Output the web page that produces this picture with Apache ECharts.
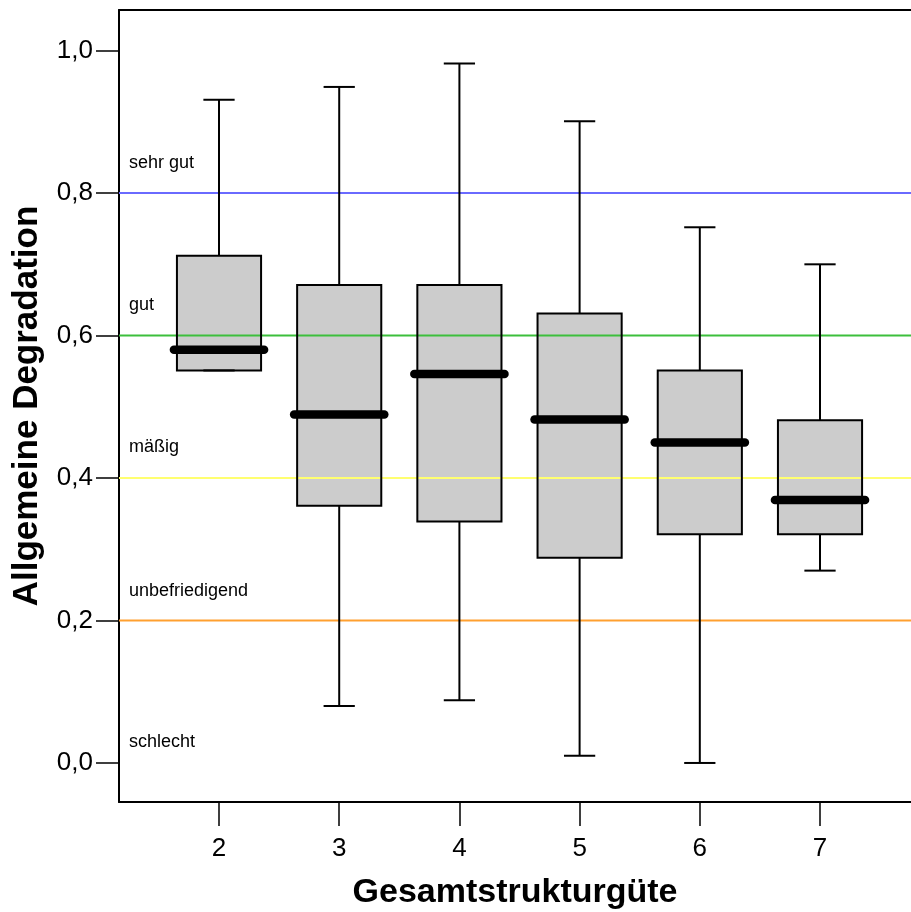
<!DOCTYPE html>
<html>
<head>
<meta charset="utf-8">
<script src="https://cdn.jsdelivr.net/npm/echarts@6/dist/echarts.min.js"></script>
<style>
html,body{margin:0;padding:0;background:#fff;}
#chart{width:911px;height:912px;}
</style>
</head>
<body>
<div id="chart"></div>
<script>
// ---- data ----
const categories = [2, 3, 4, 5, 6, 7];
const lowerWhisker = [0.551, 0.080, 0.088, 0.010, 0.000, 0.270];
const q1Values     = [0.551, 0.361, 0.339, 0.288, 0.321, 0.321];
const medianValues = [0.580, 0.489, 0.546, 0.482, 0.450, 0.369];
const q3Values     = [0.712, 0.671, 0.671, 0.631, 0.551, 0.481];
const upperWhisker = [0.931, 0.949, 0.982, 0.901, 0.752, 0.700];

const gradeLevels = [0.8, 0.6, 0.4, 0.2];
const gradeColors = ['#6a6aff', '#3cbf3c', '#ffff70', '#ffa030'];
const gradeNames  = ['sehr gut', 'gut', 'mäßig', 'unbefriedigend', 'schlecht'];
const gradeLabelY = [0.842, 0.643, 0.443, 0.242, 0.030];

const yTicks = [0, 0.2, 0.4, 0.6, 0.8, 1.0];
const xTicks = [2, 3, 4, 5, 6, 7];

// ---- styling constants ----
const X_MIN = 1.168, X_MAX = 7.757;
const Y_MIN = -0.0548, Y_MAX = 1.057;
const BOX_W = 0.70, CAP_W = 0.26, MED_W = 0.75;
const FONT = '"Liberation Sans", Arial, Helvetica, sans-serif';

const boxData = categories.map((c, i) => [c, lowerWhisker[i], q1Values[i], medianValues[i], q3Values[i], upperWhisker[i]]);
const gradeLineData = gradeLevels.map((v, i) => [v, i]);
const gradeLabelData = gradeNames.map((n, i) => [gradeLabelY[i], n]);

function boxFill(params, api) {
  const x = api.value(0);
  const half = api.size([BOX_W, 0])[0] / 2;
  const pQ1 = api.coord([x, api.value(2)]);
  const pQ3 = api.coord([x, api.value(4)]);
  return {
    type: 'rect',
    shape: {x: pQ1[0] - half, y: pQ3[1], width: half * 2, height: pQ1[1] - pQ3[1]},
    style: {fill: '#cccccc', stroke: null}
  };
}

function boxOutline(params, api) {
  const x = api.value(0);
  const half = api.size([BOX_W, 0])[0] / 2;
  const capHalf = api.size([CAP_W, 0])[0] / 2;
  const medHalf = api.size([MED_W, 0])[0] / 2;
  const pLW = api.coord([x, api.value(1)]);
  const pQ1 = api.coord([x, api.value(2)]);
  const pMed = api.coord([x, api.value(3)]);
  const pQ3 = api.coord([x, api.value(4)]);
  const pUW = api.coord([x, api.value(5)]);
  const cx = pQ1[0];
  const ls = {stroke: '#000', lineWidth: 2, fill: null};
  return {
    type: 'group',
    children: [
      {type: 'line', shape: {x1: cx, y1: pQ3[1], x2: cx, y2: pUW[1]}, style: ls},
      {type: 'line', shape: {x1: cx - capHalf, y1: pUW[1], x2: cx + capHalf, y2: pUW[1]}, style: ls},
      {type: 'line', shape: {x1: cx, y1: pQ1[1], x2: cx, y2: pLW[1]}, style: ls},
      {type: 'line', shape: {x1: cx - capHalf, y1: pLW[1], x2: cx + capHalf, y2: pLW[1]}, style: ls},
      {type: 'rect', shape: {x: cx - half, y: pQ3[1], width: half * 2, height: pQ1[1] - pQ3[1]}, style: {stroke: '#000', lineWidth: 2, fill: null}},
      {type: 'line', shape: {x1: cx - medHalf, y1: pMed[1], x2: cx + medHalf, y2: pMed[1]}, style: {stroke: '#000', lineWidth: 8.5, lineCap: 'round'}}
    ]
  };
}

function gradeLine(params, api) {
  const cs = params.coordSys;
  const y = api.coord([X_MIN, api.value(0)])[1];
  return {
    type: 'line',
    shape: {x1: cs.x, y1: y, x2: cs.x + cs.width, y2: y},
    style: {stroke: gradeColors[api.value(1)], lineWidth: 2}
  };
}

function gradeLabel(params, api) {
  const cs = params.coordSys;
  const y = api.coord([X_MIN, api.value(0)])[1];
  return {
    type: 'text',
    x: cs.x + 10, y: y,
    style: {text: gradeNames[params.dataIndex], fill: '#000', font: '18px ' + FONT, textAlign: 'left', textVerticalAlign: 'middle'}
  };
}

const chart = echarts.init(document.getElementById('chart'), null, {renderer: 'canvas'});
chart.setOption({
  animation: false,
  backgroundColor: '#fff',
  grid: {left: 119, top: 10, right: 0, bottom: 110, containLabel: false, outerBoundsMode: 'none'},
  xAxis: [{
    type: 'value', min: X_MIN, max: X_MAX, position: 'bottom',
    splitLine: {show: false},
    axisLine: {show: true, onZero: false, lineStyle: {color: '#000', width: 2}},
    axisTick: {show: true, length: 24, customValues: xTicks, lineStyle: {color: '#000', width: 1.5}},
    axisLabel: {show: true, customValues: xTicks, margin: 34, color: '#000', fontSize: 26, fontFamily: FONT,
      formatter: v => String(Math.round(v))},
    name: 'Gesamtstrukturgüte', nameLocation: 'middle', nameGap: 74,
    nameTextStyle: {color: '#000', fontSize: 34, fontWeight: 'bold', fontFamily: FONT}
  }, {
    type: 'value', min: X_MIN, max: X_MAX, position: 'top',
    splitLine: {show: false},
    axisLine: {show: true, onZero: false, lineStyle: {color: '#000', width: 2}},
    axisTick: {show: false}, axisLabel: {show: false}
  }],
  yAxis: {
    type: 'value', min: Y_MIN, max: Y_MAX,
    splitLine: {show: false},
    axisLine: {show: true, onZero: false, lineStyle: {color: '#000', width: 2}},
    axisTick: {show: true, length: 23, customValues: yTicks, lineStyle: {color: '#000', width: 1.5}},
    axisLabel: {show: true, customValues: yTicks, margin: 26, color: '#000', fontSize: 26, fontFamily: FONT,
      formatter: v => v.toFixed(1).replace('.', ',')},
    name: 'Allgemeine Degradation', nameLocation: 'middle', nameRotate: 90, nameGap: 74,
    nameTextStyle: {color: '#000', fontSize: 35, fontWeight: 'bold', fontFamily: FONT}
  },
  series: [
    {type: 'custom', name: 'fill', z: 2, xAxisIndex: 0, renderItem: boxFill, data: boxData, encode: {x: 0, y: [1, 2, 3, 4, 5]}},
    {type: 'custom', name: 'grades', z: 3, xAxisIndex: 0, renderItem: gradeLine, data: gradeLineData, encode: {y: 0}},
    {type: 'custom', name: 'gradeLabels', z: 3, xAxisIndex: 0, renderItem: gradeLabel, data: gradeLabelData, encode: {y: 0}},
    {type: 'custom', name: 'boxes', z: 4, xAxisIndex: 0, renderItem: boxOutline, data: boxData, encode: {x: 0, y: [1, 2, 3, 4, 5]}}
  ]
});
</script>
</body>
</html>
